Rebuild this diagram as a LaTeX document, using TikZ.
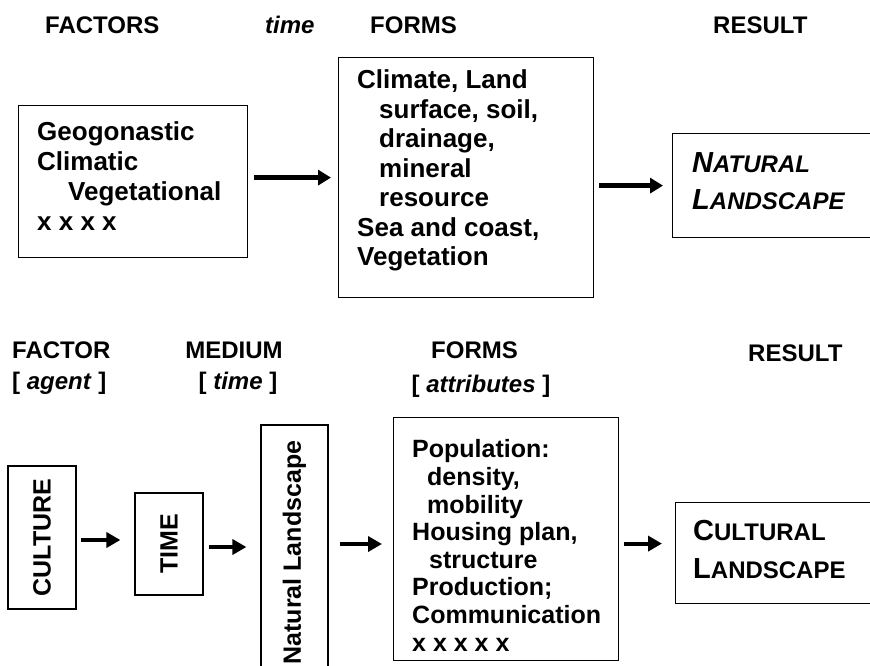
\documentclass[tikz,border=0pt]{standalone}
\usepackage{fontspec}
\setmainfont{Liberation Sans}
\usepackage{graphicx}
\usetikzlibrary{arrows.meta}
\newcommand\myfs[2]{\fontsize{#1}{#2}\selectfont}
\newcommand\scA[2]{{\myfs{29}{38}#1}{\myfs{24}{38}#2}}
\begin{document}
\begin{tikzpicture}[x=1pt,y=-1pt,
  box/.style={draw, line width=1.2pt, inner sep=0pt},
  lbl/.style={anchor=base west, inner sep=0pt, font=\bfseries\myfs{24}{29}},
  txt/.style={anchor=base west, inner sep=0pt, align=left, font=\bfseries\myfs{25}{#1}},
  txt/.default=29.5,
  ttxt/.style={anchor=base west, inner sep=0pt, align=left, font=\bfseries\myfs{26}{#1}},
  rot/.style={font=\bfseries\myfs{25}{29}},
  arr/.style={line width=4.5pt, -{Triangle[length=13pt,width=15pt]}},
  arrs/.style={line width=4pt, -{Triangle[length=14pt,width=15pt]}}]
\useasboundingbox (0,0) rectangle (870,666);
\clip (0,0) rectangle (870,666);

% ---------- top row headings
\node[lbl] (hFactors) at (45,33.5) {FACTORS};
\node[lbl] (hTime) at (265,33.5) {\itshape time};
\node[lbl] (hForms) at (370,33.5) {FORMS};
\node[lbl] (hResult) at (713,33.5) {RESULT};

% ---------- top row boxes (text anchored at the baseline of its last line)
\node[box, anchor=north west, minimum width=229pt, minimum height=152pt] (b1) at (18,105) {};
\node[ttxt=30] (t1) at (37,230) {Geogonastic\\Climatic\\\hspace*{31pt}Vegetational\\x x x x};

\node[box, anchor=north west, minimum width=255pt, minimum height=240pt] (b2) at (338,57) {};
\node[ttxt=29.5] (t2) at (357,265.5) {Climate, Land\\\hspace*{22pt}surface, soil,\\\hspace*{22pt}drainage,\\\hspace*{22pt}mineral\\\hspace*{22pt}resource\\Sea and coast,\\Vegetation};

\node[box, anchor=north west, minimum width=220pt, minimum height=104pt] (n1) at (672,133) {};
\node[anchor=base west, inner sep=0pt, align=left, font=\bfseries\itshape\myfs{29}{37}] (t3) at (692,209) {\scA{N}{ATURAL}\\\scA{L}{ANDSCAPE}};

\draw[arr, shorten <=6pt, shorten >=7pt] ([yshift=4pt]b1.east) -- ([yshift=4pt]b1.east -| b2.west);
\draw[arr, shorten <=5pt, shorten >=9pt] (b2.east |- n1.west) -- (n1.west);

% ---------- bottom row headings
\node[lbl] (hFactor) at (12,358.5) {FACTOR};
\node[lbl] (hAgent) at (12,389.5) {[ \textit{agent} ]};
\node[lbl, anchor=base] (hMedium) at (234,358.5) {MEDIUM};
\node[lbl, anchor=base] (hMtime) at (238,389.5) {[ \textit{time} ]};
\node[lbl, anchor=base] (hForms2) at (474.5,358.5) {FORMS};
\node[lbl, anchor=base] (hAttr) at (481,392) {[ \textit{attributes} ]};
\node[lbl] (hResult2) at (748,361.5) {RESULT};

% ---------- bottom row boxes
\node[box, rot, minimum width=68pt, minimum height=143pt] (cu) at (42,537.5) {\rotatebox{90}{CULTURE}};
\node[box, rot, minimum width=68pt, minimum height=102pt] (tm) at (169,544) {\rotatebox{90}{TIME}};
\node[box, rot, minimum width=67pt, minimum height=255pt] (nl) at (294.5,552.5) {\rotatebox{90}{Natural Landscape}};

\node[box, anchor=north west, minimum width=225pt, minimum height=243pt] (fm) at (393,417) {};
\node[txt=27.6] (t4) at (412,651) {Population:\\\hspace*{15pt}density,\\\hspace*{15pt}mobility\\Housing plan,\\\hspace*{17pt}structure\\Production;\\Communication\\x x x x x};

\node[box, anchor=north west, minimum width=220pt, minimum height=101pt] (cl) at (675,502) {};
\node[anchor=base west, inner sep=0pt, align=left, font=\bfseries\myfs{29}{38}] (t5) at (693,578) {\scA{C}{ULTURAL}\\\scA{L}{ANDSCAPE}};

\draw[arrs, shorten <=4pt, shorten >=14pt] ([yshift=-2.5pt]cu.east) -- ([yshift=-2.5pt]cu.east -| tm.west);
\draw[arrs, shorten <=5pt, shorten >=14pt] ([yshift=-3pt]tm.east) -- ([yshift=-3pt]tm.east -| nl.west);
\draw[arrs, shorten <=11pt, shorten >=11pt] ([yshift=8.5pt]nl.east) -- ([yshift=8.5pt]nl.east -| fm.west);
\draw[arrs, shorten <=5pt, shorten >=13pt] ([yshift=9.5pt]cl.west -| fm.east) -- ([yshift=9.5pt]cl.west);
\end{tikzpicture}
\end{document}
